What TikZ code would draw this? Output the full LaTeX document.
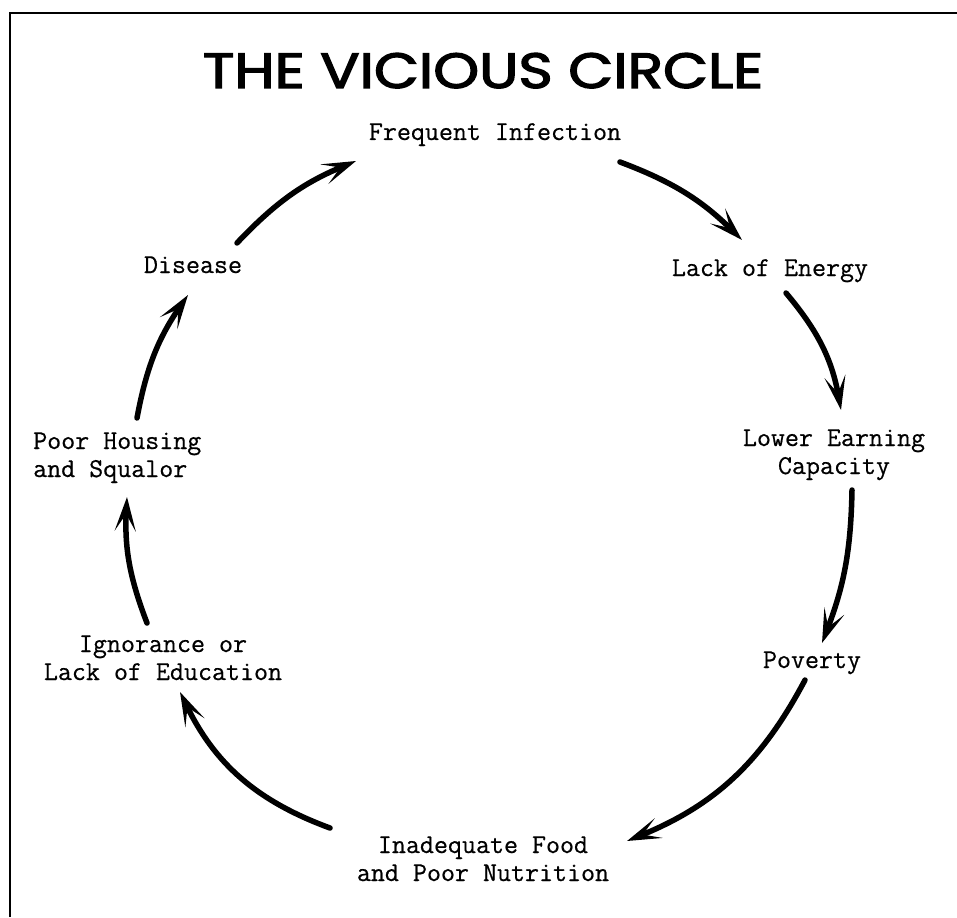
\documentclass[tikz,border=0pt]{standalone}
\usepackage{fontspec}
\usepackage{graphicx}
\newfontfamily\titlefont{Poppins}[FakeBold=2.5]
\newfontfamily\typefont{Latin Modern Mono}[FakeBold=0.6]
\usetikzlibrary{arrows.meta}
\tikzset{
  lbl/.style={font=\typefont\fontsize{27.2}{28}\selectfont, inner sep=0pt, align=center},
  arr/.style={line width=5.5pt, line cap=round, -{Stealth[length=34pt,width=21pt,inset=17pt]}},
  frame/.style={line width=2pt}
}
\begin{document}
\begin{tikzpicture}[x=1pt,y=-1pt]
\useasboundingbox (0,0) rectangle (957,917);
\draw[frame] (10,917) -- (10,13) -- (957,13);
\node[anchor=base, inner sep=0pt] (title) at (483,88) {\resizebox{560pt}{35pt}{\titlefont THE VICIOUS CIRCLE}};
\node[lbl, anchor=base] (fi) at (495,140) {Frequent Infection};
\node[lbl, anchor=base] (le) at (770,276) {Lack of Energy};
\node[lbl, anchor=base] (lc) at (834,474) {Lower Earning\\Capacity};
\node[lbl, anchor=base] (pv) at (812,668) {Poverty};
\node[lbl, anchor=base] (nf) at (483,881) {Inadequate Food\\and Poor Nutrition};
\node[lbl, anchor=base] (ig) at (163,680) {Ignorance or\\Lack of Education};
\node[lbl, anchor=base west, align=left] (ph) at (33,477) {Poor Housing\\and Squalor};
\node[lbl, anchor=base] (di) at (193,273) {Disease};

\draw[arr] ([shift={(125,22)}]fi.base) to[bend left=12] ([shift={(-28,-36)}]le.base);
\draw[arr] ([shift={(16,17)}]le.base) to[bend left=15] ([shift={(7,-64)}]lc.base);
\draw[arr] ([shift={(18,16)}]lc.base) to[bend left=10] ([shift={(10,-25)}]pv.base);
\draw[arr] ([shift={(-7,12)}]pv.base) to[bend left=20] ([shift={(144,-40)}]nf.base);
\draw[arr] ([shift={(-153,-53)}]nf.base) to[bend left=22] ([shift={(17,12)}]ig.base);
\draw[arr] ([shift={(-16,-57)}]ig.base) to[bend left=12] ([shift={(94,20)}]ph.base west);
\draw[arr] ([shift={(104,-59)}]ph.base west) to[bend left=12] ([shift={(-5,22)}]di.base);
\draw[arr] ([shift={(44,-30)}]di.base) to[bend left=12] ([shift={(-139,21)}]fi.base);
\end{tikzpicture}
\end{document}
